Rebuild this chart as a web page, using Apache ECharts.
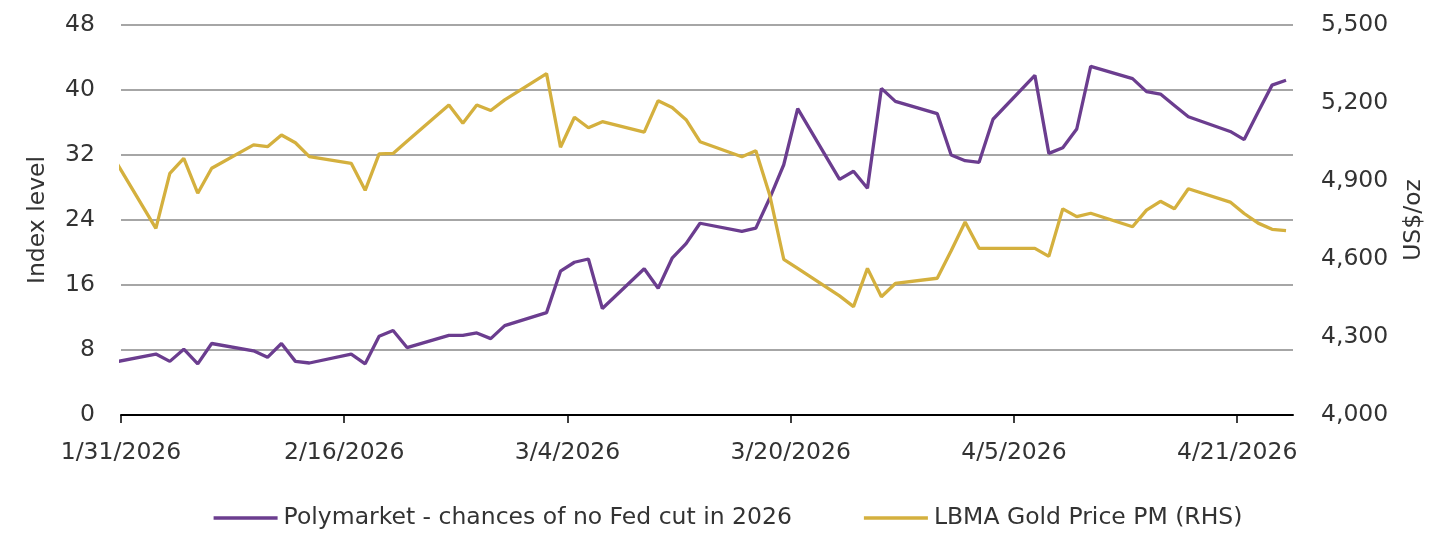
<!DOCTYPE html>
<html>
<head>
<meta charset="utf-8">
<script src="https://cdn.jsdelivr.net/npm/echarts@6/dist/echarts.min.js"></script>
<style>
  html, body { margin: 0; padding: 0; background: #ffffff; }
  #chart { width: 1456px; height: 550px; }
</style>
</head>
<body>
<div id="chart"></div>
<script>
// Trading dates (2026, month/day)
const dates = ['1/30','2/2','2/3','2/4','2/5','2/6','2/9','2/10','2/11','2/12','2/13',
  '2/16','2/17','2/18','2/19','2/20','2/23','2/24','2/25','2/26','2/27',
  '3/2','3/3','3/4','3/5','3/6','3/9','3/10','3/11','3/12','3/13',
  '3/16','3/17','3/18','3/19','3/20','3/23','3/24','3/25','3/26','3/27',
  '3/30','3/31','4/1','4/2','4/3','4/6','4/7','4/8','4/9','4/10',
  '4/13','4/14','4/15','4/16','4/17','4/20','4/21','4/22','4/23','4/24'];

// Polymarket - chances of no Fed cut in 2026 (index level, LHS)
const polymarket = [6.5,7.5,6.6,8.1,6.3,8.8,7.9,7.1,8.8,6.6,6.4,
  7.5,6.3,9.7,10.4,8.3,9.8,9.8,10.1,9.4,11.0,
  12.6,17.7,18.8,19.2,13.1,18.0,15.6,19.3,21.1,23.6,
  22.6,23.0,26.7,30.8,37.7,29.0,30.0,27.9,40.2,38.6,
  37.1,32.0,31.3,31.1,36.4,41.8,32.2,32.9,35.2,42.9,
  41.4,39.8,39.5,38.1,36.7,34.9,33.9,37.3,40.6,41.2];

// LBMA Gold Price PM (US$/oz, RHS)
const gold = [4987,4718,4929,4987,4853,4949,5039,5032,5077,5047,4994,
  4968,4864,5004,5006,5053,5192,5122,5192,5171,5212,
  5313,5030,5145,5105,5128,5088,5209,5183,5136,5051,
  4993,5016,4845,4599,4564,4458,4417,4564,4455,4506,
  4526,4632,4742,4641,4641,4641,4610,4793,4763,4776,
  4724,4788,4822,4793,4870,4819,4775,4738,4714,4709];

// X axis: days from 1/31/2026, ticks every 16 days
const axisStart = '1/31';
const axisEndDays = 84;
const xTickDays = [0, 16, 32, 48, 64, 80];

const leftTicks = { min: 0, max: 48, interval: 8 };
const rightTicks = { min: 4000, max: 5500, interval: 300 };

const seriesNames = ['Polymarket - chances of no Fed cut in 2026', 'LBMA Gold Price PM (RHS)'];

function dayOffset(md) {
  const [m, d] = md.split('/').map(Number);
  const [m0, d0] = axisStart.split('/').map(Number);
  return (Date.UTC(2026, m - 1, d) - Date.UTC(2026, m0 - 1, d0)) / 86400000;
}
function dayLabel(v) {
  const [m0, d0] = axisStart.split('/').map(Number);
  const dt = new Date(Date.UTC(2026, m0 - 1, d0) + Math.round(v) * 86400000);
  return (dt.getUTCMonth() + 1) + '/' + dt.getUTCDate() + '/' + dt.getUTCFullYear();
}
// Points sit in the middle of their day (date axis, between tick marks)
const polyData = dates.map((d, i) => [dayOffset(d) + 0.5, polymarket[i]]);
const goldData = dates.map((d, i) => [dayOffset(d) + 0.5, gold[i]]);

const FONT = 'DejaVu Sans';
const FS = 23.5;
const TXT = '#333333';
const PURPLE = '#6b3d8f';
const GOLD = '#d4b03e';

const chart = echarts.init(document.getElementById('chart'), null, { renderer: 'canvas' });
chart.setOption({
  animation: false,
  backgroundColor: '#ffffff',
  textStyle: { fontFamily: FONT },
  grid: { left: 121, right: 163, top: 25, bottom: 135 },
  legend: {
    data: seriesNames,
    left: 'center',
    top: 501,
    icon: 'rect',
    itemWidth: 64,
    itemHeight: 3.5,
    itemGap: 72,
    textStyle: { fontFamily: FONT, fontSize: FS, color: TXT, padding: [0, 0, 0, 1] }
  },
  xAxis: {
    type: 'value',
    min: 0,
    max: axisEndDays,
    interval: 16,
    splitLine: { show: false },
    axisLine: { show: true, lineStyle: { color: '#000000', width: 2 } },
    axisTick: { show: true, customValues: xTickDays, length: 8, lineStyle: { color: '#000000', width: 1.5 } },
    axisLabel: {
      customValues: xTickDays,
      formatter: v => dayLabel(v),
      fontFamily: FONT, fontSize: FS, color: TXT, margin: 26
    }
  },
  yAxis: [
    {
      type: 'value',
      min: leftTicks.min, max: leftTicks.max, interval: leftTicks.interval,
      name: 'Index level',
      nameLocation: 'middle',
      nameRotate: 90,
      nameGap: 71,
      nameTextStyle: { fontFamily: FONT, fontSize: FS, color: TXT },
      axisLine: { show: false },
      axisTick: { show: false },
      axisLabel: { fontFamily: FONT, fontSize: FS, color: TXT, margin: 26 },
      splitLine: { show: true, lineStyle: { color: '#a6a6a6', width: 2 } }
    },
    {
      type: 'value',
      position: 'right',
      min: rightTicks.min, max: rightTicks.max, interval: rightTicks.interval,
      name: 'US$/oz',
      nameLocation: 'middle',
      nameRotate: 90,
      nameGap: 109,
      nameTextStyle: { fontFamily: FONT, fontSize: FS, color: TXT },
      axisLine: { show: false },
      axisTick: { show: false },
      axisLabel: {
        fontFamily: FONT, fontSize: FS, color: TXT, margin: 28,
        formatter: v => v.toLocaleString('en-US')
      },
      splitLine: { show: false }
    }
  ],
  series: [
    {
      name: seriesNames[0],
      type: 'line',
      yAxisIndex: 0,
      data: polyData,
      showSymbol: false,
      symbol: 'none',
      clip: true,
      lineStyle: { color: PURPLE, width: 3.3 },
      itemStyle: { color: PURPLE }
    },
    {
      name: seriesNames[1],
      type: 'line',
      yAxisIndex: 1,
      data: goldData,
      showSymbol: false,
      symbol: 'none',
      clip: true,
      lineStyle: { color: GOLD, width: 3.3 },
      itemStyle: { color: GOLD }
    }
  ]
});
</script>
</body>
</html>
